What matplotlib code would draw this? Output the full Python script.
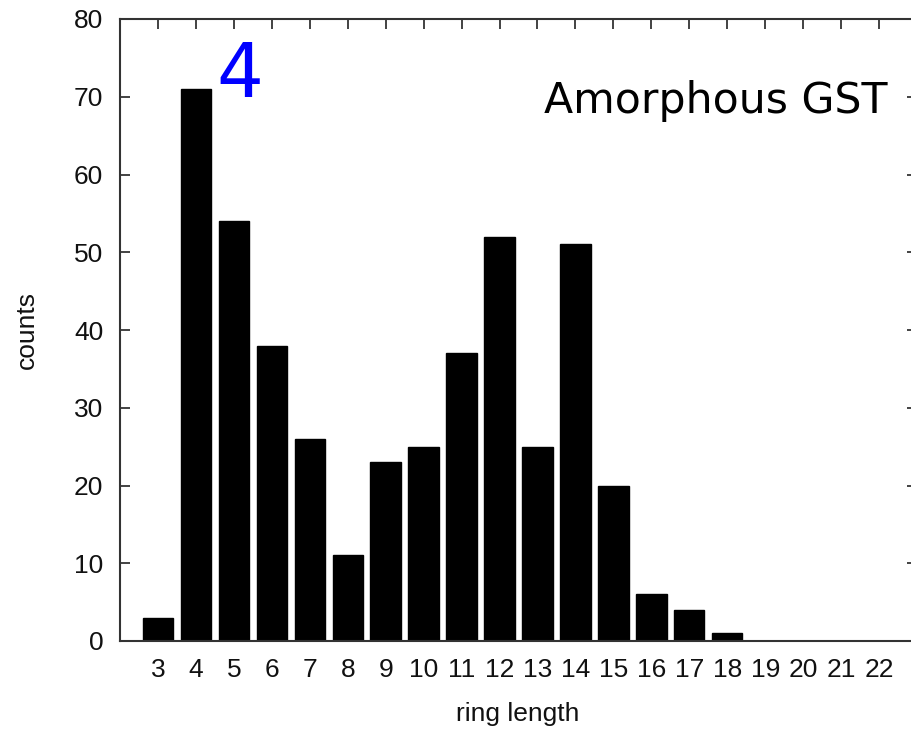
import matplotlib
matplotlib.use("Agg")
import matplotlib.pyplot as plt

ring_length = [3, 4, 5, 6, 7, 8, 9, 10, 11, 12, 13, 14, 15, 16, 17, 18, 19, 20, 21, 22]
counts = [3, 71, 54, 38, 26, 11, 23, 25, 37, 52, 25, 51, 20, 6, 4, 1, 0, 0, 0, 0]
y_ticks = [0, 10, 20, 30, 40, 50, 60, 70, 80]

plt.rcParams['font.family'] = ['Liberation Sans', 'DejaVu Sans']

fig = plt.figure(figsize=(9.12, 7.31), dpi=100)
ax = fig.add_axes([120/912, 90/731, 797/912, 622/731])

ax.bar(ring_length, counts, width=0.8, color='black', edgecolor='black')
ax.set_xlim(2, 23)
ax.set_ylim(0, 80)

ax.set_yticks(y_ticks)
ax.set_xticks(ring_length)
ax.set_xticklabels([str(v) for v in ring_length])
ax.tick_params(axis='x', which='both', direction='in', top=True, bottom=False,
               labelbottom=True, length=7, width=1.2, labelsize=19, pad=12, colors='#222222',
               labelcolor='#111111')
ax.tick_params(axis='y', which='both', direction='in', left=True, right=True,
               length=7, width=1.2, labelsize=19, pad=12, colors='#222222',
               labelcolor='#111111')
for s in ax.spines.values():
    s.set_linewidth(1.5)
    s.set_color('#333333')

ax.set_xlabel('ring length', fontsize=19, color='#111111')
ax.set_ylabel('counts', fontsize=19, color='#111111')
ax.xaxis.set_label_coords(0.5 * 796 / 797, (641 - 714) / 622)
ax.yaxis.set_label_coords((27 - 120) / 797, 0.5)
ax.xaxis.label.set_va('center')
ax.yaxis.label.set_va('center')

fig.text(240/912, 1 - 97/731, '4', color='#0000ff', fontsize=53, ha='center', va='baseline',
         family='DejaVu Sans')
fig.text(888/912, 1 - 113/731, 'Amorphous GST', color='black', fontsize=30.7, ha='right',
         va='baseline', family='DejaVu Sans')

fig.savefig('out.png', dpi=100)
